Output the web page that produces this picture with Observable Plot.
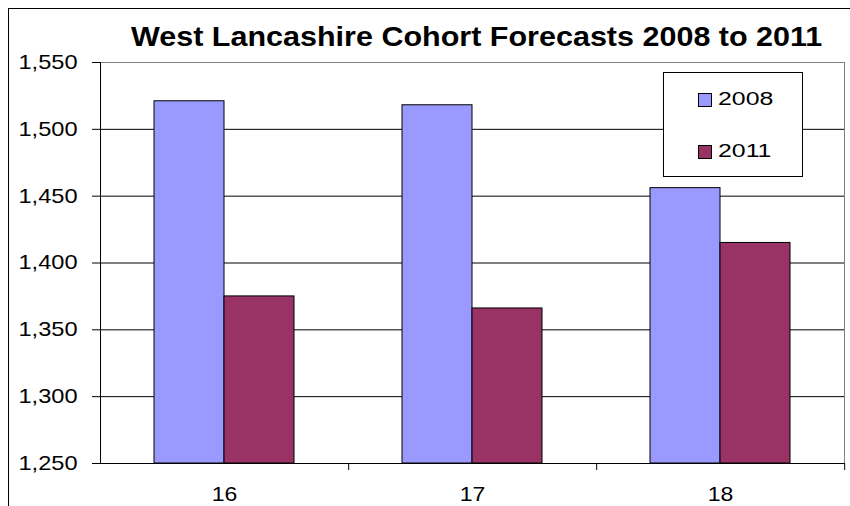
<!DOCTYPE html>
<html>
<head>
<meta charset="utf-8">
<script src="https://cdn.jsdelivr.net/npm/d3@7"></script>
<script src="https://cdn.jsdelivr.net/npm/@observablehq/plot@0.6"></script>
<style>
html, body { margin: 0; padding: 0; background: #fff; overflow: hidden; }
#wrap { position: relative; width: 850px; height: 506px; font-family: "Liberation Sans", Arial, sans-serif; }
#chart { position: absolute; left: 0; top: 0; }
#border { position: absolute; left: 8px; top: 8px; width: 900px; height: 600px; border-left: 1px solid #000; border-top: 1px solid #000; pointer-events: none; }
#title { position: absolute; left: 131px; top: 24px; font-size: 27px; font-weight: bold; line-height: 1; white-space: nowrap; transform: scaleX(1.13); transform-origin: 0 0; color: #000; }
#legend { position: absolute; left: 663px; top: 72px; width: 138px; height: 103px; border: 1px solid #000; background: #fff; }
.sw { position: absolute; left: 34px; width: 12px; height: 12px; border: 1px solid #000; }
.lt { position: absolute; left: 54px; font-size: 18px; line-height: 1; white-space: nowrap; transform: scaleX(1.38); transform-origin: 0 0; color: #000; }
</style>
</head>
<body>
<div id="wrap">
  <div id="chart"></div>
  <div id="border"></div>
  <div id="title"></div>
  <div id="legend"></div>
</div>
<script>
const title = "West Lancashire Cohort Forecasts 2008 to 2011";
const categories = ["16", "17", "18"];
const series = ["2008", "2011"];
const values2008 = [1521, 1518, 1456];
const values2011 = [1375, 1366, 1415];
const yTicks = [1250, 1300, 1350, 1400, 1450, 1500, 1550];
const colors = ["#9999FF", "#993366"];

const data = categories.flatMap((c, i) => [
  {cat: c, series: series[0], value: values2008[i]},
  {cat: c, series: series[1], value: values2011[i]}
]);

const W = 850, H = 506, ML = 99, MR = 6, MT = 62, MB = 43;
const band = (W - ML - MR) / categories.length;

const plot = Plot.plot({
  width: W,
  height: H,
  marginLeft: ML,
  marginRight: MR,
  marginTop: MT,
  marginBottom: MB,
  style: {fontFamily: "'Liberation Sans', Arial, sans-serif", color: "#000", background: "#fff"},
  fx: {domain: categories, padding: 0, label: null},
  x: {domain: series, paddingInner: 0, paddingOuter: 0.758, axis: null},
  y: {domain: [yTicks[0], yTicks[yTicks.length - 1]], label: null},
  color: {domain: series, range: colors},
  marks: [
    Plot.ruleY(yTicks.slice(1, -1), {stroke: "#000"}),
    Plot.ruleY([yTicks[yTicks.length - 1]], {stroke: "#808080"}),
    Plot.frame({anchor: "right", facetAnchor: "right", stroke: "#808080"}),
    Plot.barY(data, {fx: "cat", x: "series", y1: yTicks[0], y2: "value", fill: "series", stroke: "#000", strokeWidth: 1}),
    Plot.ruleY([yTicks[0]], {stroke: "#000"}),
    Plot.frame({anchor: "left", facetAnchor: "left", stroke: "#000"}),
    Plot.axisY({ticks: yTicks, tickFormat: d3.format(","), tickSize: 8, tickPadding: 15, fontSize: 20, label: null, stroke: "#000"}),
    Plot.axisFx({anchor: "bottom", tickSize: 0, tickPadding: 23, fontSize: 20, label: null}),
    Plot.axisFx({anchor: "bottom", tickSize: 7, text: null, dx: band / 2, label: null, stroke: "#000"})
  ]
});
document.getElementById("chart").appendChild(plot);

function stretch(sel, s) {
  plot.querySelectorAll(sel).forEach(t => {
    const tr = t.getAttribute("transform");
    if (tr) t.setAttribute("transform", `${tr} scale(${s},1)`);
  });
}
stretch('g[aria-label="y-axis tick label"] text', 1.18);
stretch('g[aria-label="fx-axis tick label"] text', 1.15);

document.getElementById("title").textContent = title;

const legend = document.getElementById("legend");
const swTops = [20, 72], txtTops = [17, 69];
series.forEach((s, i) => {
  const sw = document.createElement("div");
  sw.className = "sw";
  sw.style.top = swTops[i] + "px";
  sw.style.background = colors[i];
  legend.appendChild(sw);
  const t = document.createElement("div");
  t.className = "lt";
  t.style.top = txtTops[i] + "px";
  t.textContent = s;
  legend.appendChild(t);
});
</script>
</body>
</html>
